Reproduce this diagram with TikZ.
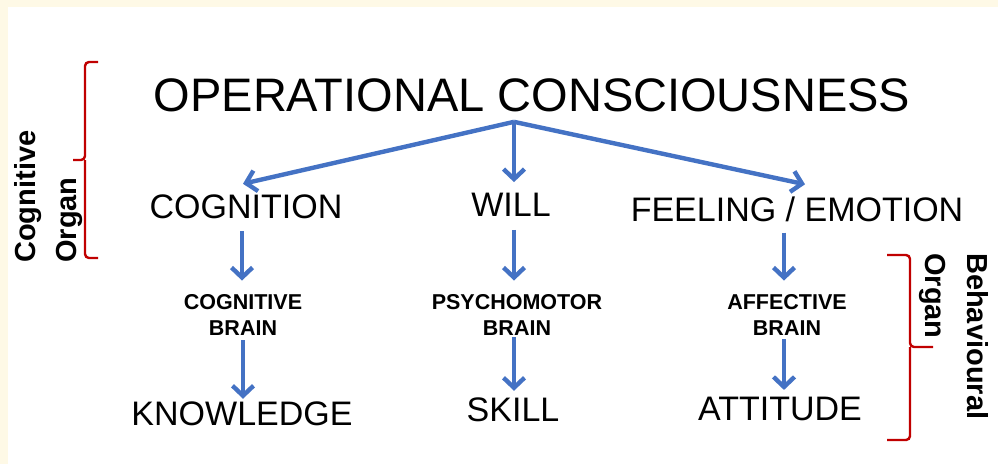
\documentclass[tikz,border=0pt]{standalone}
\usepackage{fontspec}
\setmainfont{Liberation Sans}
\usetikzlibrary{arrows.meta,calc}
\definecolor{cream}{HTML}{FEF9E6}
\definecolor{arrblue}{HTML}{4472C4}
\definecolor{bracered}{HTML}{C00000}
\tikzset{
  big/.style={inner sep=0pt,font=\fontsize{34}{40}\selectfont},
  brain/.style={inner sep=0pt,align=center,font=\fontsize{21.5}{25.5}\selectfont\bfseries},
  organ/.style={inner sep=0pt,font=\fontsize{29}{34}\selectfont\bfseries},
  arr/.style={draw=arrblue,line width=4.4pt,-{Straight Barb[length=10pt,width=21pt]}},
  brace/.style={draw=bracered,line width=2.4pt,rounded corners=4pt}
}
\begin{document}
\begin{tikzpicture}[x=1pt,y=-1pt]
\useasboundingbox (0,0) rectangle (998,464);
\fill[cream] (0,0) rectangle (998,464);
\fill[white] (8,7) rectangle (998,464);

\node[inner sep=0pt,font=\fontsize{47}{56}\selectfont] (title) at (532,95) {OPERATIONAL CONSCIOUSNESS};
\coordinate (hub) at ([xshift=-18pt,yshift=-10pt]title.south);

\node[big] (cog)  at (246,207) {COGNITION};
\node[big] (will) at (511,205) {WILL};
\node[big] (feel) at (797,209) {FEELING / EMOTION};

\node[brain] (cogb) at (243,315) {COGNITIVE\\BRAIN};
\node[brain] (psyb) at (517,315) {PSYCHOMOTOR\\BRAIN};
\node[brain] (affb) at (787,315) {AFFECTIVE\\BRAIN};

\node[big] (know)  at (242,414) {KNOWLEDGE};
\node[big] (skill) at (513,410) {SKILL};
\node[big] (att)   at (780,409) {ATTITUDE};

% top arrows
\draw[arr] (hub) -- ([shift={(-3pt,11pt)}]cog.north);
\draw[arr] (hub) -- ([shift={(3pt,11pt)}]will.north);
\draw[arr] (hub) -- ([shift={(8pt,12pt)}]feel.north);

% down arrows
\draw[arr] ([xshift=-4pt,yshift=-12pt]cog.south) -- ([xshift=-1pt,yshift=14pt]cogb.north);
\draw[arr] ([xshift=3pt,yshift=-13pt]will.south) -- ([xshift=-3pt,yshift=14pt]psyb.north);
\draw[arr] ([xshift=-13pt,yshift=-11pt]feel.south) -- ([xshift=-3pt,yshift=14pt]affb.north);

\draw[arr] ([yshift=-5pt]cogb.south) -- ([xshift=1pt,yshift=3pt]know.north);
\draw[arr] ([xshift=-3pt,yshift=-2pt]psyb.south) -- ([xshift=1pt,yshift=7pt]skill.north);
\draw[arr] ([xshift=-3pt,yshift=-4pt]affb.south) -- ([xshift=4pt,yshift=7pt]att.north);

% braces
\coordinate (lmid) at (73,160);
\draw[brace] (98,62) -| (85,160) -- (lmid);
\draw[brace] (98,258) -| (85,160);
\coordinate (rmid) at (933,347);
\draw[brace] (887,255) -| (910,347) -- (rmid);
\draw[brace] (887,440) -| (910,347);

% organ labels
\node[organ,rotate=90,anchor=base west] (cogl) at (35,263) {Cognitive};
\node[organ,rotate=90,anchor=base west] (orgl) at (76,263) {Organ};
\node[organ,rotate=-90,anchor=base west] (behl) at (967,253) {Behavioural};
\node[organ,rotate=-90,anchor=base west] (orgr) at (925,253) {Organ};
\end{tikzpicture}
\end{document}
